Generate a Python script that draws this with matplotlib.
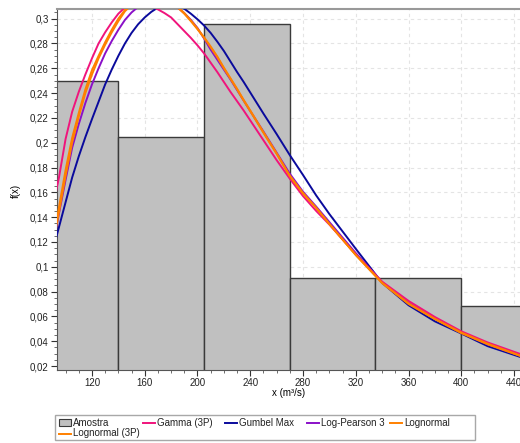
import matplotlib
matplotlib.use("Agg")
import matplotlib.pyplot as plt
from matplotlib.ticker import MultipleLocator, FuncFormatter
from matplotlib.patches import Rectangle
from matplotlib.lines import Line2D

plt.rcParams['font.family'] = ['Liberation Sans', 'DejaVu Sans']
plt.rcParams['font.size'] = 7

W, H = 520, 443

# histogram of the sample (bin edges and heights)
bin_edges = [74.7, 139.7, 204.7, 269.8, 334.8, 399.8, 464.8]
bin_heights = [0.250, 0.205, 0.296, 0.0912, 0.0912, 0.0684]

# fitted densities, read at these x positions
x_pts = [93, 95, 100, 105, 110, 115, 120, 125, 130, 135, 140, 145, 150, 155, 160,
         165, 170, 175, 180, 185, 190, 195, 200, 205, 210, 215, 220, 225, 230, 235,
         240, 250, 260, 270, 280, 290, 300, 320, 340, 360, 380, 400, 420, 445]

gamma3p = [0.162, 0.172, 0.203, 0.225, 0.241, 0.255, 0.268, 0.280, 0.289, 0.297,
           0.304, 0.309, 0.3115, 0.3125, 0.312, 0.310, 0.3075, 0.3045, 0.301, 0.2955,
           0.290, 0.2845, 0.2785, 0.272, 0.2645, 0.257, 0.249, 0.241, 0.2335, 0.226,
           0.218, 0.202, 0.186, 0.171, 0.157, 0.145, 0.134, 0.110, 0.088, 0.0725,
           0.0595, 0.048, 0.039, 0.0296]
gumbel = [0.124, 0.132, 0.152, 0.172, 0.189, 0.2045, 0.219, 0.233, 0.247, 0.259,
          0.270, 0.280, 0.2885, 0.2955, 0.301, 0.3055, 0.309, 0.311, 0.3115, 0.3105,
          0.308, 0.304, 0.2995, 0.2945, 0.2885, 0.2815, 0.274, 0.2655, 0.257, 0.249,
          0.2405, 0.2235, 0.207, 0.190, 0.174, 0.1575, 0.1425, 0.1145, 0.087, 0.069,
          0.056, 0.0462, 0.036, 0.0272]
logpearson3 = [0.132, 0.143, 0.170, 0.196, 0.215, 0.232, 0.247, 0.260, 0.272, 0.282,
               0.291, 0.299, 0.305, 0.3095, 0.3125, 0.3145, 0.315, 0.3145, 0.3125, 0.309,
               0.3045, 0.299, 0.2925, 0.284, 0.275, 0.267, 0.259, 0.251, 0.2425, 0.234,
               0.2255, 0.209, 0.192, 0.175, 0.1605, 0.1485, 0.136, 0.111, 0.0875, 0.071,
               0.0585, 0.047, 0.0375, 0.0282]
lognormal = [0.136, 0.148, 0.178, 0.204, 0.224, 0.243, 0.2585, 0.270, 0.281, 0.291,
             0.300, 0.307, 0.312, 0.3155, 0.3175, 0.3185, 0.318, 0.316, 0.313, 0.309,
             0.304, 0.298, 0.2915, 0.2845, 0.277, 0.269, 0.260, 0.2515, 0.243, 0.234,
             0.2255, 0.208, 0.191, 0.173, 0.159, 0.1475, 0.1345, 0.1095, 0.087, 0.0705,
             0.058, 0.047, 0.038, 0.0283]
lognormal3p = [0.133, 0.144, 0.173, 0.200, 0.221, 0.240, 0.255, 0.268, 0.279, 0.289,
               0.298, 0.306, 0.311, 0.315, 0.3175, 0.319, 0.3185, 0.3165, 0.3135, 0.3095,
               0.3045, 0.2985, 0.292, 0.285, 0.2775, 0.2695, 0.2605, 0.252, 0.2435, 0.2345,
               0.226, 0.2085, 0.1915, 0.1735, 0.1595, 0.1475, 0.1345, 0.1095, 0.0868, 0.070,
               0.0578, 0.0465, 0.0375, 0.028]

c_gamma = '#F0147C'
c_gumbel = '#0A0A9C'
c_lp3 = '#8A10C8'
c_logn = '#FF8000'
c_bar = '#C0C0C0'
c_edge = '#3A3A3A'

fig = plt.figure(figsize=(W / 100, H / 100), dpi=100)
ax = fig.add_axes([57 / W, 1 - 370 / H, 1 - 57 / W, (370 - 9) / H])

widths = [bin_edges[i + 1] - bin_edges[i] for i in range(len(bin_heights))]
ax.bar(bin_edges[:-1], bin_heights, width=widths, align='edge',
       color=c_bar, edgecolor=c_edge, linewidth=1, zorder=2)

ax.plot(x_pts, gumbel, color=c_gumbel, lw=1.4, zorder=3)
ax.plot(x_pts, logpearson3, color=c_lp3, lw=1.4, zorder=4)
ax.plot(x_pts, gamma3p, color=c_gamma, lw=1.4, zorder=5)
ax.plot(x_pts, lognormal, color=c_logn, lw=1.4, zorder=6)
ax.plot(x_pts, lognormal3p, color=c_logn, lw=1.4, zorder=6)

ax.set_xlim(93.5, 444.5)
ax.set_ylim(0.0168, 0.3078)

ax.xaxis.set_major_locator(MultipleLocator(40))
ax.xaxis.set_minor_locator(MultipleLocator(10))
ax.yaxis.set_major_locator(MultipleLocator(0.02))
ax.yaxis.set_minor_locator(MultipleLocator(0.005))
ax.yaxis.set_major_formatter(FuncFormatter(lambda v, p: ('%g' % round(v, 3)).replace('.', ',')))
ax.tick_params(which='major', length=4, width=0.8, colors='#333333', labelcolor='#222222',
               labelsize=7, pad=2)
ax.tick_params(which='minor', length=2, width=0.6, colors='#555555')

ax.grid(True, which='major', color='#E4E4E4', linestyle=(0, (3, 3)), linewidth=0.8, zorder=0)
ax.set_axisbelow(True)

ax.spines['right'].set_visible(False)
ax.spines['top'].set_color('#999999')
ax.spines['top'].set_linewidth(1.5)
ax.spines['left'].set_color('#555555')
ax.spines['bottom'].set_color('#555555')

fig.text(16 / W, 1 - 191 / H, 'f(x)', rotation=90, ha='center', va='center', fontsize=7)
fig.text(289 / W, 1 - 393 / H, 'x (m³/s)', ha='center', va='center', fontsize=7)

# legend box drawn by hand so the columns are evenly spaced
def fx(px):
    return px / W

def fy(py):
    return 1 - py / H

fig.add_artist(Rectangle((fx(55), fy(440)), 420 / W, 25 / H, transform=fig.transFigure,
                         fill=False, edgecolor='#A8A8A8', linewidth=1))

legend_items = [
    ('patch', c_bar, 'Amostra', 59, 422.5),
    ('line', c_gamma, 'Gamma (3P)', 143, 422.5),
    ('line', c_gumbel, 'Gumbel Max', 225, 422.5),
    ('line', c_lp3, 'Log-Pearson 3', 307, 422.5),
    ('line', c_logn, 'Lognormal', 390, 422.5),
    ('line', c_logn, 'Lognormal (3P)', 59, 433.5),
]
for kind, color, label, px, py in legend_items:
    if kind == 'patch':
        fig.add_artist(Rectangle((fx(px), fy(py + 3.5)), 12 / W, 7 / H,
                                 transform=fig.transFigure, facecolor=color,
                                 edgecolor=c_edge, linewidth=0.8))
    else:
        fig.add_artist(Line2D([fx(px), fx(px + 12)], [fy(py), fy(py)],
                              transform=fig.transFigure, color=color, lw=1.4))
    fig.text(fx(px + 14), fy(py), label, ha='left', va='center', fontsize=7, color='#222222')

fig.savefig('out.png', dpi=100)
